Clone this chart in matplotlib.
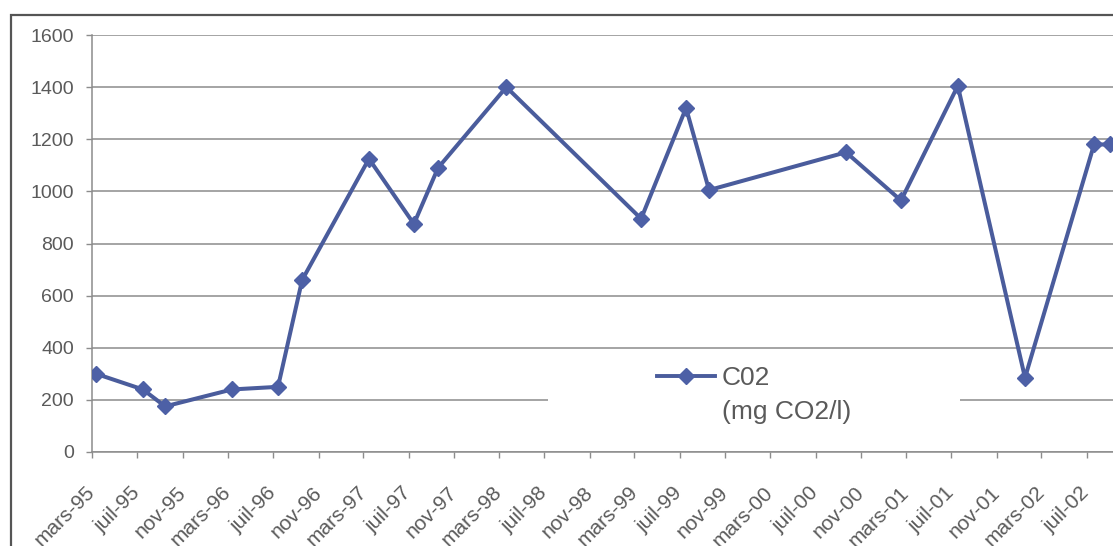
import numpy as np
import pandas as pd
import matplotlib
matplotlib.use("Agg")
import matplotlib.pyplot as plt
from matplotlib.patches import Rectangle
from matplotlib.lines import Line2D

# données
dates = ["1995-03-12", "1995-07-16", "1995-09-14", "1996-03-12", "1996-07-14",
         "1996-09-17", "1997-03-16", "1997-07-15", "1997-09-18", "1998-03-21",
         "1999-03-19", "1999-07-18", "1999-09-18", "2000-09-21", "2001-02-16",
         "2001-07-19", "2002-01-16", "2002-07-21", "2002-09-02"]
co2 = [300, 240, 175, 240, 250, 660, 1125, 875, 1090, 1400,
       895, 1320, 1005, 1150, 965, 1405, 285, 1180, 1180]

tick_labels = ["mars-95", "juil-95", "nov-95", "mars-96", "juil-96", "nov-96",
               "mars-97", "juil-97", "nov-97", "mars-98", "juil-98", "nov-98",
               "mars-99", "juil-99", "nov-99", "mars-00", "juil-00", "nov-00",
               "mars-01", "juil-01", "nov-01", "mars-02", "juil-02"]
y_ticks = [0, 200, 400, 600, 800, 1000, 1200, 1400, 1600]

series_label = "C02"
unit_label = "(mg CO2/l)"

plt.rcParams['font.family'] = ['Liberation Sans', 'DejaVu Sans']

W, H = 1113, 546
fig = plt.figure(figsize=(W / 100, H / 100), dpi=100)
ax = fig.add_axes([92 / W, 1 - 452 / H, 1 - 92 / W, 417 / H])

x = pd.to_datetime(dates)
line_col = '#4a5c9c'
txt_col = '#5a5a5a'
grid_col = '#8c8c8c'

ax.plot(x, co2, color=line_col, lw=2.9, marker='D', ms=8.5,
        markerfacecolor='#4d60a6', markeredgecolor='#4d60a6', zorder=3)

ax.set_ylim(0, 1600)
ax.set_yticks(y_ticks)
ax.set_xlim(pd.Timestamp("1995-03-01"), pd.Timestamp("2002-09-10"))
ax.set_xticks(pd.date_range("1995-03-01", periods=len(tick_labels), freq="4MS"))
ax.set_xticklabels(tick_labels, rotation=45, ha='right', va='center',
                   rotation_mode='anchor')

ax.set_axisbelow(True)
ax.yaxis.grid(True, color=grid_col, lw=1.1)
for s in ['top', 'right']:
    ax.spines[s].set_visible(False)
for s in ['left', 'bottom']:
    ax.spines[s].set_color(grid_col)
    ax.spines[s].set_linewidth(1.1)

ax.tick_params(axis='y', length=4, width=1, color=grid_col, pad=9,
               labelsize=14, labelcolor=txt_col)
ax.tick_params(axis='x', length=4, width=1, color=grid_col, pad=23,
               labelsize=15, labelcolor=txt_col)

# fond blanc de la légende (coupe la grille comme sur l'original)
ax.add_patch(Rectangle((0.4466, 0.0096), 0.4034, 0.2206, transform=ax.transAxes,
                       facecolor='white', edgecolor='none', zorder=1))

handle = Line2D([], [], color=line_col, lw=2.8, marker='D', ms=8,
                markerfacecolor='#4d60a6', markeredgecolor='#4d60a6')
leg = ax.legend([handle], [series_label], loc='center left',
                bbox_to_anchor=(0.5534, 0.1775), frameon=False, borderpad=0,
                borderaxespad=0, handlelength=2.2, handletextpad=0.25,
                fontsize=19, labelcolor=txt_col)
ax.text(0.617, 0.079, unit_label, transform=ax.transAxes, fontsize=19,
        color=txt_col, va='baseline', ha='left')

# cadre de la zone du graphique
fig.add_artist(Rectangle((11 / W, -0.5), 2, 0.5 + (1 - 15 / H),
                         transform=fig.transFigure, fill=False,
                         edgecolor='#555555', lw=1.6))

fig.savefig("out.png", dpi=100)
